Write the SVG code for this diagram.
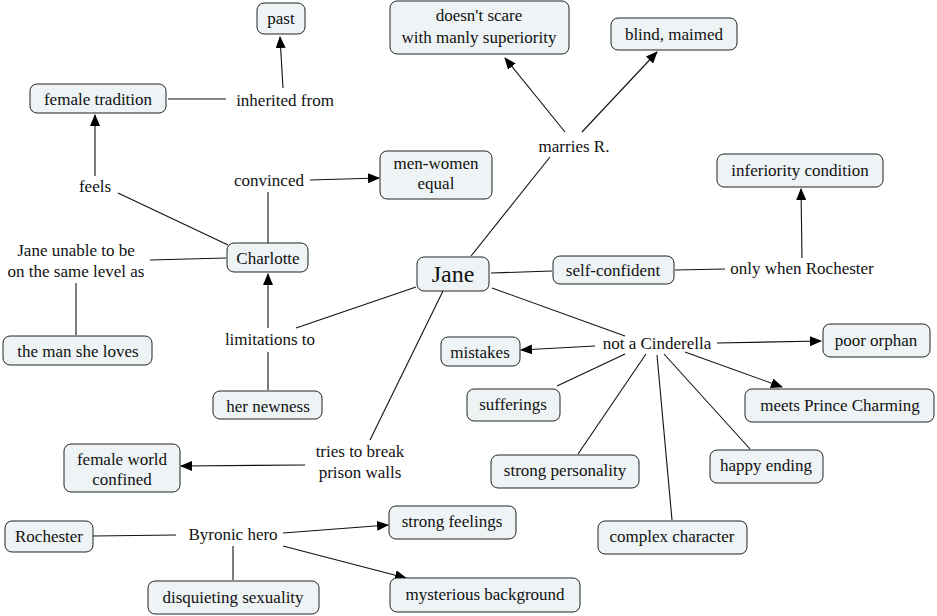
<svg xmlns="http://www.w3.org/2000/svg" width="937" height="616" viewBox="0 0 937 616">
<defs>
<marker id="arr" markerUnits="userSpaceOnUse" markerWidth="12" markerHeight="10" refX="11" refY="5" orient="auto">
<path d="M0,0 L12,5 L0,10 z" fill="#000"/>
</marker>
<style>
.b{fill:#eef3f5;stroke:#222;stroke-width:1}
.t{font-size:17px;fill:#111;text-anchor:middle}
.j{font-size:24px}
.c line{stroke:#111;stroke-width:1.1}
.a{marker-end:url(#arr)}
</style>
</defs>
<rect width="937" height="616" fill="#fff"/>
<g class="c" id="connectors">
<line class="a" x1="283" y1="88" x2="280" y2="37"/>
<line x1="168" y1="99" x2="226" y2="99"/>
<line class="a" x1="95" y1="176" x2="95" y2="115"/>
<line x1="118" y1="193" x2="228" y2="245"/>
<line x1="268" y1="243" x2="268" y2="192"/>
<line class="a" x1="310" y1="180" x2="379" y2="178"/>
<line x1="150" y1="260" x2="226" y2="258"/>
<line x1="76" y1="283" x2="76" y2="335"/>
<line x1="268" y1="390" x2="268" y2="352"/>
<line class="a" x1="268" y1="328" x2="268" y2="274"/>
<line x1="416" y1="287" x2="296" y2="328"/>
<line x1="471" y1="256" x2="550" y2="157"/>
<line class="a" x1="565" y1="132" x2="505" y2="58"/>
<line class="a" x1="582" y1="132" x2="657" y2="52"/>
<line x1="491" y1="273" x2="552" y2="271"/>
<line x1="675" y1="270" x2="725" y2="269"/>
<line class="a" x1="802" y1="258" x2="801" y2="189"/>
<line x1="492" y1="288" x2="625" y2="336"/>
<line class="a" x1="595" y1="346" x2="521" y2="350"/>
<line class="a" x1="717" y1="343" x2="821" y2="341"/>
<line class="a" x1="685" y1="352" x2="782" y2="387"/>
<line x1="625" y1="354" x2="557" y2="386"/>
<line x1="646" y1="354" x2="578" y2="454"/>
<line x1="657" y1="355" x2="672" y2="520"/>
<line x1="664" y1="354" x2="750" y2="449"/>
<line x1="443" y1="291" x2="370" y2="440"/>
<line class="a" x1="305" y1="465" x2="181" y2="466"/>
<line x1="93" y1="536" x2="176" y2="535"/>
<line class="a" x1="283" y1="533" x2="388" y2="525"/>
<line class="a" x1="283" y1="546" x2="406" y2="578"/>
<line x1="233" y1="546" x2="233" y2="580"/>
</g>
<g id="nodes" font-family="Liberation Serif, Times New Roman, serif">
<g id="past"><rect class="b" x="257" y="3" width="48" height="31" rx="7"/><text class="t" x="281" y="24">past</text></g>
<g id="female-tradition"><rect class="b" x="30" y="84" width="136" height="29" rx="7"/><text class="t" x="98" y="105">female tradition</text></g>
<g id="inherited-from"><text class="t" x="285" y="106">inherited from</text></g>
<g id="feels"><text class="t" x="95" y="192">feels</text></g>
<g id="convinced"><text class="t" x="269" y="186">convinced</text></g>
<g id="men-women-equal"><rect class="b" x="380" y="151" width="112" height="48" rx="7"/><text class="t" x="436" y="169">men-women</text><text class="t" x="436" y="189">equal</text></g>
<g id="doesnt-scare"><rect class="b" x="390" y="1" width="179" height="53" rx="7"/><text class="t" x="479" y="21">doesn't scare</text><text class="t" x="479" y="43">with manly superiority</text></g>
<g id="blind-maimed"><rect class="b" x="611" y="18" width="126" height="32" rx="7"/><text class="t" x="674" y="40">blind, maimed</text></g>
<g id="marries-r"><text class="t" x="574" y="152">marries R.</text></g>
<g id="inferiority-condition"><rect class="b" x="717" y="154" width="166" height="33" rx="7"/><text class="t" x="800" y="176">inferiority condition</text></g>
<g id="only-when-rochester"><text class="t" x="802" y="274">only when Rochester</text></g>
<g id="self-confident"><rect class="b" x="553" y="256" width="121" height="28" rx="7"/><text class="t" x="613" y="276">self-confident</text></g>
<g id="jane"><rect class="b" x="417" y="257" width="72" height="34" rx="7"/><text class="t j" x="453" y="282">Jane</text></g>
<g id="charlotte"><rect class="b" x="227" y="243" width="81" height="29" rx="7"/><text class="t" x="268" y="264">Charlotte</text></g>
<g id="jane-unable"><text class="t" x="76" y="256">Jane unable to be</text><text class="t" x="76" y="277">on the same level as</text></g>
<g id="man-she-loves"><rect class="b" x="3" y="336" width="149" height="29" rx="7"/><text class="t" x="78" y="357">the man she loves</text></g>
<g id="limitations-to"><text class="t" x="270" y="345">limitations to</text></g>
<g id="her-newness"><rect class="b" x="213" y="391" width="109" height="28" rx="7"/><text class="t" x="268" y="412">her newness</text></g>
<g id="not-a-cinderella"><text class="t" x="657" y="349">not a Cinderella</text></g>
<g id="mistakes"><rect class="b" x="441" y="337" width="79" height="29" rx="7"/><text class="t" x="480" y="358">mistakes</text></g>
<g id="poor-orphan"><rect class="b" x="823" y="324" width="107" height="33" rx="7"/><text class="t" x="876" y="346">poor orphan</text></g>
<g id="sufferings"><rect class="b" x="467" y="389" width="93" height="32" rx="7"/><text class="t" x="513" y="410">sufferings</text></g>
<g id="meets-prince-charming"><rect class="b" x="745" y="389" width="189" height="33" rx="7"/><text class="t" x="840" y="411">meets Prince Charming</text></g>
<g id="strong-personality"><rect class="b" x="491" y="455" width="148" height="33" rx="7"/><text class="t" x="565" y="476">strong personality</text></g>
<g id="happy-ending"><rect class="b" x="710" y="450" width="113" height="33" rx="7"/><text class="t" x="766" y="471">happy ending</text></g>
<g id="complex-character"><rect class="b" x="598" y="521" width="149" height="33" rx="7"/><text class="t" x="672" y="542">complex character</text></g>
<g id="tries-to-break"><text class="t" x="360" y="457">tries to break</text><text class="t" x="360" y="478">prison walls</text></g>
<g id="female-world-confined"><rect class="b" x="64" y="444" width="116" height="48" rx="7"/><text class="t" x="122" y="465">female world</text><text class="t" x="122" y="485">confined</text></g>
<g id="rochester"><rect class="b" x="5" y="521" width="88" height="31" rx="7"/><text class="t" x="49" y="542">Rochester</text></g>
<g id="byronic-hero"><text class="t" x="233" y="540">Byronic hero</text></g>
<g id="strong-feelings"><rect class="b" x="389" y="506" width="127" height="33" rx="7"/><text class="t" x="452" y="527">strong feelings</text></g>
<g id="disquieting-sexuality"><rect class="b" x="148" y="581" width="171" height="33" rx="7"/><text class="t" x="233" y="603">disquieting sexuality</text></g>
<g id="mysterious-background"><rect class="b" x="390" y="578" width="190" height="34" rx="7"/><text class="t" x="485" y="600">mysterious background</text></g>
</g>
</svg>
